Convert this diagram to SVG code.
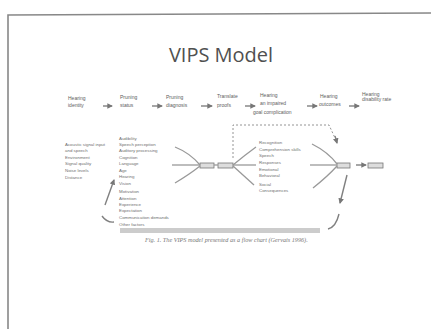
<svg xmlns="http://www.w3.org/2000/svg" width="431" height="329" viewBox="0 0 431 329">
<defs>
<style>
.t{font-family:"Liberation Sans",Arial,sans-serif;font-size:4.4px;fill:#707070}
.h{font-family:"Liberation Sans",Arial,sans-serif;font-size:5px;fill:#606060}
.s{font-family:"Liberation Serif",serif;font-size:6.2px;fill:#777;font-style:italic}
.title{font-family:"Open Sans","Liberation Sans",sans-serif;font-size:20px;fill:#505050}
.ln{stroke:#808080;stroke-width:1.4;fill:none}
.fan{stroke:#999;stroke-width:1.3;fill:none}
.box{fill:#ddd;stroke:#777;stroke-width:0.8}
.dash{stroke:#888;stroke-width:0.9;stroke-dasharray:2 2;fill:none}
</style>
<marker id="ah" viewBox="0 0 6 6" refX="5" refY="3" markerWidth="4" markerHeight="4" orient="auto"><path d="M0,0 L6,3 L0,6 z" fill="#777"/></marker>
</defs>
<rect width="431" height="329" fill="#fff"/>
<g id="slide-frame"><path d="M8,329 L8,15 L431,13" stroke="#888" stroke-width="1.6" fill="none"/></g>
<g id="title"><text class="title" x="221" y="62" text-anchor="middle">VIPS Model</text></g>
<g id="n1"><text class="h" x="68" y="100">Hearing</text><text class="h" x="68" y="107">identity</text></g>
<g id="n2"><text class="h" x="120" y="99">Pruning</text><text class="h" x="120" y="107">status</text></g>
<g id="n3"><text class="h" x="166" y="99">Pruning</text><text class="h" x="166" y="107">diagnosis</text></g>
<g id="n4"><text class="h" x="217" y="98">Translate</text><text class="h" x="217" y="107">proofs</text></g>
<g id="n5"><text class="h" x="260" y="97">Hearing</text><text class="h" x="260" y="105">an impaired</text><text class="h" x="253" y="114">goal complication</text></g>
<g id="n6"><text class="h" x="320" y="98">Hearing</text><text class="h" x="319" y="106">outcomes</text></g>
<g id="n7"><text class="h" x="362" y="96">Hearing</text><text class="h" x="362" y="101">disability rate</text></g>
<g id="col-left">
<text class="t" x="65" y="146">Acoustic signal input</text>
<text class="t" x="65" y="152">and speech</text>
<text class="t" x="65" y="159">Environment</text>
<text class="t" x="65" y="165">Signal quality</text>
<text class="t" x="65" y="172">Noise levels</text>
<text class="t" x="65" y="179">Distance</text>
</g>
<g id="col-mid">
<text class="t" x="119" y="140">Audibility</text>
<text class="t" x="119" y="146">Speech perception</text>
<text class="t" x="119" y="152">Auditory processing</text>
<text class="t" x="119" y="159">Cognition</text>
<text class="t" x="119" y="165">Language</text>
<text class="t" x="119" y="172">Age</text>
<text class="t" x="119" y="178">Hearing</text>
<text class="t" x="119" y="185">Vision</text>
<text class="t" x="119" y="193">Motivation</text>
<text class="t" x="119" y="200">Attention</text>
<text class="t" x="119" y="206">Experience</text>
<text class="t" x="119" y="212">Expectation</text>
<text class="t" x="119" y="219">Communication demands</text>
<text class="t" x="119" y="226">Other factors</text>
</g>
<g id="col-right">
<text class="t" x="259" y="144">Recognition</text>
<text class="t" x="259" y="151">Comprehension skills</text>
<text class="t" x="259" y="157">Speech</text>
<text class="t" x="259" y="164">Responses</text>
<text class="t" x="259" y="171">Emotional</text>
<text class="t" x="259" y="177">Behavioral</text>
<text class="t" x="259" y="186">Social</text>
<text class="t" x="259" y="192">Consequences</text>
</g>
<g id="box-a"><rect class="box" x="200" y="163" width="14" height="5"/></g>
<g id="box-b"><rect class="box" x="218" y="163" width="15" height="5"/></g>
<g id="box-c"><rect class="box" x="337" y="163" width="13" height="5"/></g>
<g id="box-d"><rect class="box" x="368" y="163" width="15" height="5"/></g>
<g id="caption"><text class="s" x="145" y="242">Fig. 1. The VIPS model presented as a flow chart (Gervais 1996).</text></g>
<g id="connectors">
<line class="ln" x1="103" y1="106" x2="112" y2="106" marker-end="url(#ah)"/>
<line class="ln" x1="152" y1="106" x2="162" y2="106" marker-end="url(#ah)"/>
<line class="ln" x1="201" y1="106" x2="212" y2="106" marker-end="url(#ah)"/>
<line class="ln" x1="245" y1="106" x2="255" y2="106" marker-end="url(#ah)"/>
<line class="ln" x1="307" y1="106" x2="317" y2="106" marker-end="url(#ah)"/>
<line class="ln" x1="349" y1="106" x2="359" y2="106" marker-end="url(#ah)"/>
<path class="fan" d="M175,147 Q190,153 200,165"/>
<line class="fan" x1="172" y1="165" x2="200" y2="165"/>
<path class="fan" d="M175,183 Q190,174 200,166"/>
<line class="fan" x1="214" y1="165" x2="218" y2="165"/>
<path class="fan" d="M233,165 Q245,155 256,147"/>
<line class="fan" x1="233" y1="165" x2="256" y2="165"/>
<path class="fan" d="M233,166 Q244,176 254,185"/>
<path class="fan" d="M312,144 Q328,152 337,164"/>
<line class="fan" x1="310" y1="165" x2="337" y2="165"/>
<path class="fan" d="M313,188 Q328,176 337,166"/>
<line class="ln" x1="356" y1="165" x2="366" y2="165" marker-end="url(#ah)"/>
<path class="dash" d="M233,158 L233,125 L329,125 L335,138"/>
<line class="ln" x1="335" y1="136" x2="337" y2="143" marker-end="url(#ah)"/>
<path class="ln" d="M347,175 L340,203" marker-end="url(#ah)"/>
<path class="ln" d="M339,214 Q336,227 328,229"/>
<rect x="120" y="228" width="200" height="5" fill="#ccc"/>
<path class="ln" d="M102,216 Q107,223 114,222"/>
<path class="ln" d="M105,205 L114,180" marker-end="url(#ah)"/>
</g>
</svg>
